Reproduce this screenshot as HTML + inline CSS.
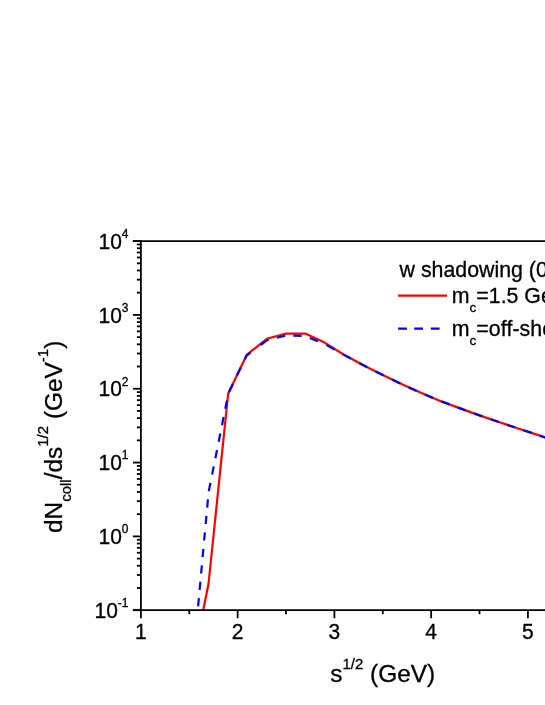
<!DOCTYPE html>
<html><head><meta charset="utf-8"><title>plot</title>
<style>html,body{margin:0;padding:0;background:#fff;}body{width:545px;height:705px;overflow:hidden;}svg{display:block;will-change:transform;}text{font-family:"Liberation Sans", sans-serif;fill:#000;stroke:#000;stroke-width:0.3px;font-kerning:none;font-variant-ligatures:none;font-feature-settings:"kern" 0,"liga" 0;}</style>
</head><body>
<svg width="545" height="705" viewBox="0 0 545 705">
<rect x="0" y="0" width="545" height="705" fill="#fff"/>
<g clip-path="url(#cp)">
<polyline fill="none" stroke="#ff0000" stroke-width="2.2" stroke-linejoin="round" points="203.2,610.2 208.5,584.0 228.2,393.4 246.7,354.9 266.8,338.8 286.0,333.6 305.3,333.6 324.6,342.6 344.0,354.8 363.4,365.3 382.8,375.0 402.1,384.3 421.5,393.1 440.8,401.2 460.2,408.4 479.5,415.4 498.9,422.0 518.2,428.5 537.6,434.9 556.9,441.2"/>
</g>
<defs><clipPath id="cp"><rect x="140.9" y="241.1" width="420" height="369.1"/></clipPath></defs>
<path fill="none" stroke="#0000ff" stroke-width="2.2" stroke-linejoin="round" d="M198.1,606.4 L198.9,598.2 M199.6,589.9 L200.4,581.7 M201.1,573.5 L201.9,565.3 M202.6,557.0 L203.4,548.8 M204.1,540.5 L204.9,532.3 M205.7,524.0 L206.4,515.8 M207.2,507.6 L207.9,499.4 M208.8,491.1 L210.4,482.9 M212.1,474.6 L213.7,466.4 M215.4,458.2 L217.0,450.0 M218.7,441.7 L220.3,433.5 M222.0,425.2 L223.6,417.0 M225.3,408.8 L226.9,400.6 M228.9,392.3 L232.9,384.1 M236.8,375.8 L240.8,367.6 M244.8,359.4 L246.6,355.5 M246.6,355.5 L250.5,352.6 M260.5,345.0 L266.8,340.3 L268.7,339.8 M277.0,337.7 L285.2,335.6 M293.4,335.6 L301.6,335.9 M309.8,337.9 L318.0,341.2 M326.3,344.9 L334.5,349.5 M342.7,354.2 L344.0,354.9 L350.9,358.6 M359.1,363.0 L363.4,365.3 L367.3,367.3 M375.5,371.4 L382.8,375.0 L383.7,375.5 M392.0,379.4 L400.2,383.4 M408.4,387.2 L416.6,390.9 M424.8,394.5 L433.0,397.9 M441.3,401.4 L449.5,404.4 M457.7,407.5 L460.2,408.4 L465.9,410.5 M474.1,413.5 L479.5,415.4 L482.3,416.4 M490.6,419.2 L498.8,422.0 M507.0,424.7 L515.2,427.5 M523.4,430.2 L531.6,432.9 M539.8,435.6 L548.0,438.3"/>
<g stroke="#000" stroke-width="1.80" fill="none" stroke-linecap="butt">
<line x1="140.90" y1="240.20" x2="140.90" y2="611.10"/>
<line x1="132.90" y1="241.10" x2="545" y2="241.10"/>
<line x1="132.90" y1="610.20" x2="545" y2="610.20"/>
<line x1="132.90" y1="610.20" x2="140.90" y2="610.20"/>
<line x1="136.90" y1="587.98" x2="140.90" y2="587.98"/>
<line x1="136.90" y1="574.98" x2="140.90" y2="574.98"/>
<line x1="136.90" y1="565.76" x2="140.90" y2="565.76"/>
<line x1="136.90" y1="558.60" x2="140.90" y2="558.60"/>
<line x1="136.90" y1="552.76" x2="140.90" y2="552.76"/>
<line x1="136.90" y1="547.81" x2="140.90" y2="547.81"/>
<line x1="136.90" y1="543.53" x2="140.90" y2="543.53"/>
<line x1="136.90" y1="539.76" x2="140.90" y2="539.76"/>
<line x1="132.90" y1="536.38" x2="140.90" y2="536.38"/>
<line x1="136.90" y1="514.16" x2="140.90" y2="514.16"/>
<line x1="136.90" y1="501.16" x2="140.90" y2="501.16"/>
<line x1="136.90" y1="491.94" x2="140.90" y2="491.94"/>
<line x1="136.90" y1="484.78" x2="140.90" y2="484.78"/>
<line x1="136.90" y1="478.94" x2="140.90" y2="478.94"/>
<line x1="136.90" y1="473.99" x2="140.90" y2="473.99"/>
<line x1="136.90" y1="469.71" x2="140.90" y2="469.71"/>
<line x1="136.90" y1="465.94" x2="140.90" y2="465.94"/>
<line x1="132.90" y1="462.56" x2="140.90" y2="462.56"/>
<line x1="136.90" y1="440.34" x2="140.90" y2="440.34"/>
<line x1="136.90" y1="427.34" x2="140.90" y2="427.34"/>
<line x1="136.90" y1="418.12" x2="140.90" y2="418.12"/>
<line x1="136.90" y1="410.96" x2="140.90" y2="410.96"/>
<line x1="136.90" y1="405.12" x2="140.90" y2="405.12"/>
<line x1="136.90" y1="400.17" x2="140.90" y2="400.17"/>
<line x1="136.90" y1="395.89" x2="140.90" y2="395.89"/>
<line x1="136.90" y1="392.12" x2="140.90" y2="392.12"/>
<line x1="132.90" y1="388.74" x2="140.90" y2="388.74"/>
<line x1="136.90" y1="366.52" x2="140.90" y2="366.52"/>
<line x1="136.90" y1="353.52" x2="140.90" y2="353.52"/>
<line x1="136.90" y1="344.30" x2="140.90" y2="344.30"/>
<line x1="136.90" y1="337.14" x2="140.90" y2="337.14"/>
<line x1="136.90" y1="331.30" x2="140.90" y2="331.30"/>
<line x1="136.90" y1="326.35" x2="140.90" y2="326.35"/>
<line x1="136.90" y1="322.07" x2="140.90" y2="322.07"/>
<line x1="136.90" y1="318.30" x2="140.90" y2="318.30"/>
<line x1="132.90" y1="314.92" x2="140.90" y2="314.92"/>
<line x1="136.90" y1="292.70" x2="140.90" y2="292.70"/>
<line x1="136.90" y1="279.70" x2="140.90" y2="279.70"/>
<line x1="136.90" y1="270.48" x2="140.90" y2="270.48"/>
<line x1="136.90" y1="263.32" x2="140.90" y2="263.32"/>
<line x1="136.90" y1="257.48" x2="140.90" y2="257.48"/>
<line x1="136.90" y1="252.53" x2="140.90" y2="252.53"/>
<line x1="136.90" y1="248.25" x2="140.90" y2="248.25"/>
<line x1="136.90" y1="244.48" x2="140.90" y2="244.48"/>
<line x1="132.90" y1="241.10" x2="140.90" y2="241.10"/>
<line x1="140.90" y1="610.20" x2="140.90" y2="618.20"/>
<line x1="189.28" y1="610.20" x2="189.28" y2="614.20"/>
<line x1="237.65" y1="610.20" x2="237.65" y2="618.20"/>
<line x1="286.02" y1="610.20" x2="286.02" y2="614.20"/>
<line x1="334.40" y1="610.20" x2="334.40" y2="618.20"/>
<line x1="382.77" y1="610.20" x2="382.77" y2="614.20"/>
<line x1="431.15" y1="610.20" x2="431.15" y2="618.20"/>
<line x1="479.52" y1="610.20" x2="479.52" y2="614.20"/>
<line x1="527.90" y1="610.20" x2="527.90" y2="618.20"/>
</g>
<text transform="translate(128.50,617.90) scale(1,1.03)" text-anchor="end" font-size="21">10<tspan font-size="12" dy="-10.6">-1</tspan></text>
<text transform="translate(128.50,544.08) scale(1,1.03)" text-anchor="end" font-size="21">10<tspan font-size="12" dy="-10.6">0</tspan></text>
<text transform="translate(128.50,470.26) scale(1,1.03)" text-anchor="end" font-size="21">10<tspan font-size="12" dy="-10.6">1</tspan></text>
<text transform="translate(128.50,396.44) scale(1,1.03)" text-anchor="end" font-size="21">10<tspan font-size="12" dy="-10.6">2</tspan></text>
<text transform="translate(128.50,322.62) scale(1,1.03)" text-anchor="end" font-size="21">10<tspan font-size="12" dy="-10.6">3</tspan></text>
<text transform="translate(128.50,248.80) scale(1,1.03)" text-anchor="end" font-size="21">10<tspan font-size="12" dy="-10.6">4</tspan></text>
<text transform="translate(140.90,638.80) scale(1,1.03)" text-anchor="middle" font-size="21">1</text>
<text transform="translate(237.65,638.80) scale(1,1.03)" text-anchor="middle" font-size="21">2</text>
<text transform="translate(334.40,638.80) scale(1,1.03)" text-anchor="middle" font-size="21">3</text>
<text transform="translate(431.15,638.80) scale(1,1.03)" text-anchor="middle" font-size="21">4</text>
<text transform="translate(527.90,638.80) scale(1,1.03)" text-anchor="middle" font-size="21">5</text>
<text transform="translate(330.20,681.50) scale(1,1)" text-anchor="start" font-size="24.4">s<tspan font-size="15" dy="-13">1/2</tspan><tspan dy="13"> (GeV)</tspan></text>
<text transform="translate(61.80,533.00) rotate(-90) scale(1,1)" text-anchor="start" font-size="24.4">dN<tspan font-size="15" dy="8.7">coll</tspan><tspan dy="-8.7">/ds</tspan><tspan font-size="15" dy="-14">1/2</tspan><tspan dy="14"> (GeV</tspan><tspan font-size="15" dy="-14">-1</tspan><tspan dy="14">)</tspan></text>
<text transform="translate(399.60,277.00) scale(1,1)" text-anchor="start" font-size="21.33">w shadowing (0-10%)</text>
<line x1="398.1" y1="295.7" x2="447" y2="295.7" stroke="#ff0000" stroke-width="2.2"/>
<text transform="translate(451.80,302.90) scale(1,1)" text-anchor="start" font-size="21.33">m<tspan font-size="13.5" dy="8.7">c</tspan><tspan dy="-8.7">=1.5 GeV</tspan></text>
<path d="M398.1,328.7 h8.8 M414.2,328.7 h8.8 M430.8,328.7 h8.8" stroke="#0000ff" stroke-width="2.2" fill="none"/>
<text transform="translate(451.80,336.20) scale(1,1)" text-anchor="start" font-size="21.33">m<tspan font-size="13.5" dy="8.7">c</tspan><tspan dy="-8.7">=off-shell</tspan></text>
</svg></body></html>
